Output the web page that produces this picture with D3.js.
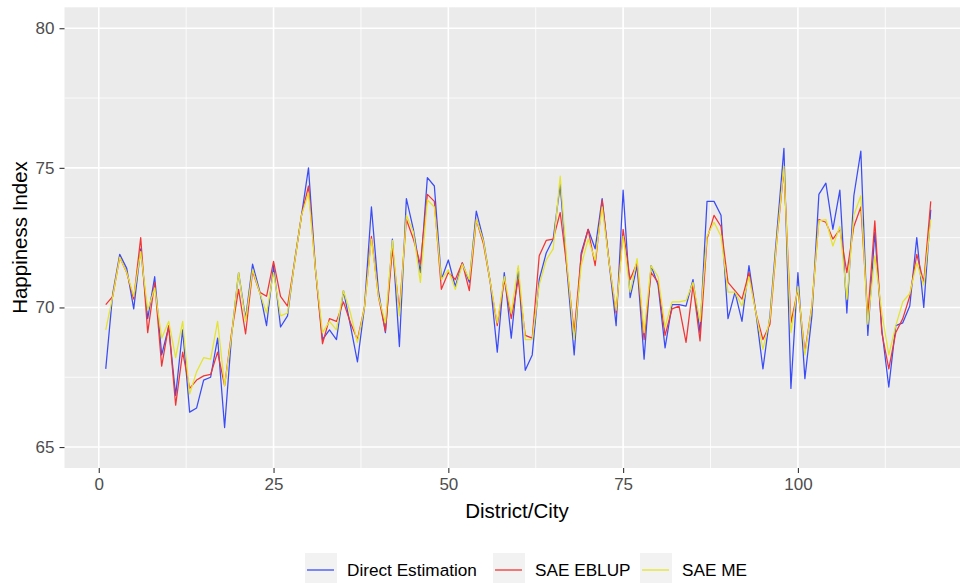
<!DOCTYPE html>
<html>
<head>
<meta charset="utf-8">
<script src="https://cdn.jsdelivr.net/npm/d3@7"></script>
<style>
  body { margin: 0; background: #fff; overflow: hidden; }
  svg text { font-family: "Liberation Sans", Arial, sans-serif; }
</style>
</head>
<body>
<div class="canva"></div>
<script>
// district index 1..119
const districts = d3.range(1, 120);

// happiness index per district
const directEst = [67.8,70.5,71.9,71.4,69.95,72.1,69.6,71.1,68.3,69.3,66.85,69.2,66.25,66.4,67.4,67.5,68.9,65.7,69.0,71.25,
  69.6,71.55,70.6,69.35,71.5,69.3,69.7,71.65,73.3,75.0,71.35,68.85,69.2,68.85,70.6,69.35,68.05,70.0,73.6,70.6,
  69.1,72.45,68.6,73.9,72.8,71.25,74.65,74.35,71.0,71.7,70.75,71.6,70.9,73.45,72.45,70.9,68.4,71.25,68.9,71.4,
  67.75,68.3,71.0,71.95,72.45,74.4,71.25,68.3,71.95,72.8,72.1,73.9,71.6,69.35,74.2,70.35,71.5,68.15,71.5,70.8,
  68.55,70.1,70.1,70.05,71.0,69.1,73.8,73.8,73.3,69.6,70.55,69.5,71.5,69.8,67.8,69.7,72.7,75.7,67.1,71.25,
  67.45,69.7,74.05,74.45,72.8,74.2,69.8,74.0,75.6,69.0,72.7,69.2,67.15,69.35,69.45,70.05,72.5,70.0,73.5];

const saeEblup = [70.1,70.4,71.8,71.25,70.3,72.5,69.1,70.9,67.9,69.35,66.5,68.4,67.1,67.4,67.55,67.6,68.4,67.2,69.1,70.65,
  69.05,71.3,70.55,70.4,71.65,70.4,70.05,71.6,73.3,74.35,71.35,68.7,69.6,69.5,70.2,69.45,68.85,70.0,72.55,70.4,
  69.15,72.1,69.9,73.15,72.45,71.55,74.05,73.8,70.65,71.25,71.0,71.6,70.6,73.15,72.3,70.9,69.35,71.0,69.6,71.0,
  69.0,68.9,71.85,72.4,72.45,73.4,71.35,69.1,71.85,72.8,71.5,73.85,71.6,69.8,72.8,71.0,71.6,68.85,71.25,70.9,
  69.0,69.95,70.05,68.75,70.8,68.8,72.45,73.3,72.9,70.9,70.6,70.3,71.25,69.8,68.85,69.4,72.45,74.95,69.45,70.65,
  68.4,70.05,73.15,73.05,72.45,72.8,71.25,72.9,73.6,69.7,73.1,69.1,67.8,69.1,69.6,70.4,71.9,70.9,73.8];

const saeMe = [69.2,70.4,71.8,71.25,70.4,72.0,69.9,70.7,68.9,69.5,68.2,69.5,66.9,67.7,68.2,68.15,69.5,67.2,69.0,71.25,
  69.5,71.35,70.55,69.8,71.25,69.7,69.8,71.6,73.3,74.1,71.35,69.1,69.5,69.2,70.6,69.8,68.75,70.0,72.45,70.4,
  69.45,72.4,69.7,73.3,72.7,70.9,73.85,73.6,71.0,71.35,70.65,71.55,71.0,73.15,72.4,70.9,69.45,71.1,69.8,71.5,
  68.85,68.85,70.8,71.7,72.1,74.7,71.5,68.85,71.5,72.45,71.7,73.6,71.6,69.9,72.55,70.55,71.75,69.1,71.5,71.1,
  69.3,70.2,70.2,70.25,70.9,69.5,72.55,73.05,72.55,70.55,70.55,70.05,71.1,69.8,68.5,69.6,72.45,75.05,69.1,70.75,
  68.3,70.05,73.1,73.15,72.2,72.9,70.3,73.3,74.0,69.4,71.85,69.8,68.3,69.35,70.2,70.5,71.6,70.8,73.15];

const seriesNames = ["Direct Estimation", "SAE EBLUP", "SAE ME"];
const seriesColors = ["#3a4cf6", "#f23434", "#e4e42c"];
const xTicks = [0, 25, 50, 75, 100];
const yTicks = [65, 70, 75, 80];

//svg size
const svg = d3.select(".canva").append("svg")
              .attr('width', 960)
              .attr('height', 583);

// panel (right edge runs past the window like the reference)
const pLeft = 64.5, pRight = 972, pTop = 7.3, pBottom = 468;

const x = d3.scaleLinear().domain([-4.9, 124.9]).range([pLeft, pRight]);
const y = d3.scaleLinear().domain([64.25, 80.75]).range([pBottom, pTop]);

svg.append('rect')
   .attr('x', pLeft).attr('y', pTop)
   .attr('width', pRight - pLeft).attr('height', pBottom - pTop)
   .attr('fill', '#ebebeb');

//minor grid
const xMinor = [12.5, 37.5, 62.5, 87.5, 112.5];
const yMinor = [67.5, 72.5, 77.5];
svg.selectAll('.xminor').data(xMinor).enter().append('line')
   .attr('x1', d => x(d)).attr('x2', d => x(d))
   .attr('y1', pTop).attr('y2', pBottom)
   .attr('stroke', '#fff').attr('stroke-width', 0.8);
svg.selectAll('.yminor').data(yMinor).enter().append('line')
   .attr('y1', d => y(d)).attr('y2', d => y(d))
   .attr('x1', pLeft).attr('x2', pRight)
   .attr('stroke', '#fff').attr('stroke-width', 0.8);

//major grid
svg.selectAll('.xmajor').data(xTicks).enter().append('line')
   .attr('x1', d => x(d)).attr('x2', d => x(d))
   .attr('y1', pTop).attr('y2', pBottom)
   .attr('stroke', '#fff').attr('stroke-width', 1.6);
svg.selectAll('.ymajor').data(yTicks).enter().append('line')
   .attr('y1', d => y(d)).attr('y2', d => y(d))
   .attr('x1', pLeft).attr('x2', pRight)
   .attr('stroke', '#fff').attr('stroke-width', 1.6);

//lines
const allSeries = [directEst, saeEblup, saeMe];
const line = d3.line().x((d, i) => x(districts[i])).y(d => y(d));
allSeries.forEach((s, k) => {
  svg.append('path')
     .datum(s)
     .attr('d', line)
     .attr('fill', 'none')
     .attr('stroke', seriesColors[k])
     .attr('stroke-width', 1.25)
     .attr('stroke-linejoin', 'round');
});

//axes
const xAxis = svg.append('g')
   .attr('transform', `translate(0,${pBottom})`)
   .call(d3.axisBottom(x).tickValues(xTicks).tickSize(5).tickPadding(5));
const yAxis = svg.append('g')
   .attr('transform', `translate(${pLeft},0)`)
   .call(d3.axisLeft(y).tickValues(yTicks).tickSize(5).tickPadding(5));
[xAxis, yAxis].forEach(g => {
  g.select('.domain').remove();
  g.selectAll('.tick line').attr('stroke', '#333').attr('stroke-width', 1.1);
  g.selectAll('.tick text')
   .attr('fill', '#4d4d4d')
   .attr('font-size', 17)
   .attr('font-family', '"Liberation Sans", Arial, sans-serif');
});

//axis titles
svg.append('text')
   .text('District/City')
   .attr('x', 517).attr('y', 518)
   .attr('text-anchor', 'middle')
   .attr('font-size', 20.5)
   .attr('fill', '#000');
svg.append('text')
   .text('Happiness Index')
   .attr('transform', 'translate(27,237.5) rotate(-90)')
   .attr('text-anchor', 'middle')
   .attr('font-size', 20.5)
   .attr('fill', '#000');

//legend
const legendX = [305, 493, 640];
const leg = svg.selectAll('.leg').data(seriesNames).enter().append('g')
   .attr('transform', (d, i) => `translate(${legendX[i]},553)`);
leg.append('rect')
   .attr('width', 32).attr('height', 34)
   .attr('fill', '#f2f2f2');
leg.append('line')
   .attr('x1', 2).attr('x2', 29)
   .attr('y1', 17).attr('y2', 17)
   .attr('stroke', (d, i) => seriesColors[i])
   .attr('stroke-width', 1.3);
leg.append('text')
   .text(d => d)
   .attr('x', 42).attr('y', 23)
   .attr('font-size', 17.2)
   .attr('fill', '#000');
</script>
</body>
</html>
